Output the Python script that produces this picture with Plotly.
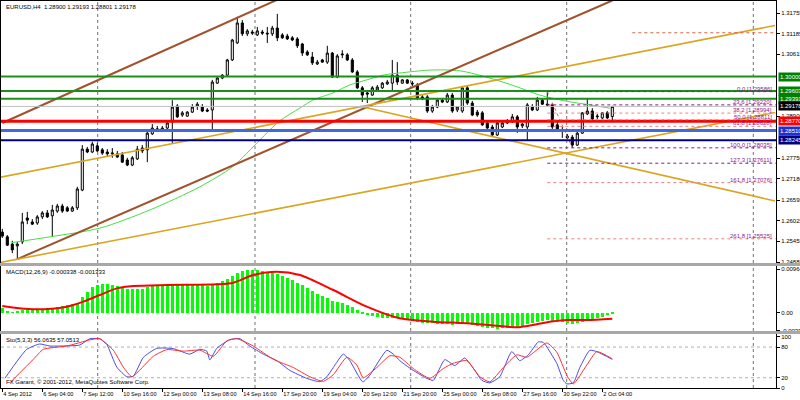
import plotly.graph_objects as go
from plotly.subplots import make_subplots

# ---------------- data ----------------
SYMBOL_TITLE = "EURUSD,H4  1.28900 1.29193 1.28801 1.29178"

OPEN = [1.2571, 1.2558, 1.2538, 1.2533, 1.2544, 1.2610, 1.2599, 1.2596, 1.2613, 1.2624,
        1.2616, 1.2629, 1.2643, 1.2638, 1.2629, 1.2638, 1.2687, 1.2800, 1.2792, 1.2809,
        1.2798, 1.2792, 1.2787, 1.2787, 1.2784, 1.2770, 1.2756, 1.2773, 1.2803, 1.2798,
        1.2842, 1.2856, 1.2853, 1.2858, 1.2875, 1.2919, 1.2894, 1.2891, 1.2902, 1.2919,
        1.2916, 1.2908, 1.2908, 1.2982, 1.2996, 1.3004, 1.3046, 1.3093, 1.3148, 1.3118,
        1.3123, 1.3115, 1.3123, 1.3120, 1.3118, 1.3134, 1.3115, 1.3112, 1.3107, 1.3104,
        1.3090, 1.3068, 1.3054, 1.3035, 1.3046, 1.3040, 1.3065, 1.2999, 1.3060, 1.3060,
        1.3046, 1.3013, 1.2969, 1.2955, 1.2949, 1.2963, 1.2969, 1.2980, 1.2982, 1.3004,
        1.2982, 1.2991, 1.2982, 1.2977, 1.2944, 1.2944, 1.2905, 1.2916, 1.2935, 1.2930,
        1.2949, 1.2908, 1.2905, 1.2969, 1.2927, 1.2902, 1.2900, 1.2872, 1.2861, 1.2839,
        1.2861, 1.2872, 1.2875, 1.2889, 1.2864, 1.2861, 1.2916, 1.2908, 1.2935, 1.2924,
        1.2922, 1.2867, 1.2853, 1.2836, 1.2833, 1.2811, 1.2844, 1.2897, 1.2905, 1.2889,
        1.2886, 1.2900, 1.28900]
HIGH = [1.2580, 1.2563, 1.2547, 1.2544, 1.2624, 1.2627, 1.2607, 1.2618, 1.2629, 1.2632,
        1.2646, 1.2649, 1.2649, 1.2643, 1.2643, 1.2696, 1.2811, 1.2806, 1.2820, 1.2817,
        1.2803, 1.2800, 1.2803, 1.2795, 1.2792, 1.2776, 1.2781, 1.2809, 1.2811, 1.2853,
        1.2869, 1.2864, 1.2864, 1.2878, 1.2935, 1.2924, 1.2905, 1.2905, 1.2924, 1.2930,
        1.2924, 1.2913, 1.2991, 1.2999, 1.3007, 1.3049, 1.3104, 1.3165, 1.3156, 1.3131,
        1.3129, 1.3137, 1.3129, 1.3137, 1.3140, 1.3173, 1.3120, 1.3118, 1.3112, 1.3109,
        1.3093, 1.3073, 1.3068, 1.3046, 1.3049, 1.3085, 1.3068, 1.3062, 1.3073, 1.3065,
        1.3051, 1.3018, 1.2974, 1.2963, 1.2974, 1.2977, 1.2985, 1.2991, 1.3046, 1.3040,
        1.2993, 1.2993, 1.2988, 1.2982, 1.2949, 1.2949, 1.2922, 1.2938, 1.2941, 1.2955,
        1.2955, 1.2919, 1.2971, 1.2974, 1.2933, 1.2908, 1.2905, 1.2878, 1.2867, 1.2878,
        1.2875, 1.2883, 1.2897, 1.2894, 1.2872, 1.2927, 1.2924, 1.2944, 1.2941, 1.29586,
        1.2927, 1.2875, 1.2861, 1.2842, 1.2839, 1.2847, 1.2902, 1.2941, 1.2913, 1.2897,
        1.2902, 1.2905, 1.29193]
LOW = [1.2555, 1.2533, 1.2513, 1.2497, 1.2538, 1.2593, 1.2591, 1.2591, 1.2607, 1.2610,
       1.2558, 1.2624, 1.2624, 1.2627, 1.2627, 1.2632, 1.2684, 1.2789, 1.2789, 1.2792,
       1.2784, 1.2781, 1.2776, 1.2776, 1.2762, 1.2753, 1.2753, 1.2770, 1.2789, 1.2764,
       1.2839, 1.2847, 1.2847, 1.2853, 1.2817, 1.2886, 1.2889, 1.2889, 1.2900, 1.2908,
       1.2902, 1.2902, 1.2853, 1.2980, 1.2993, 1.3002, 1.3043, 1.3090, 1.3112, 1.3112,
       1.3115, 1.3112, 1.3115, 1.3093, 1.3112, 1.3098, 1.3104, 1.3101, 1.3098, 1.3079,
       1.3057, 1.3057, 1.3032, 1.3032, 1.3038, 1.3035, 1.2996, 1.2996, 1.3051, 1.3043,
       1.3010, 1.2966, 1.2930, 1.2927, 1.2947, 1.2960, 1.2966, 1.2977, 1.2958, 1.2977,
       1.2980, 1.2980, 1.2974, 1.2935, 1.2935, 1.2900, 1.2900, 1.2913, 1.2927, 1.2927,
       1.2900, 1.2902, 1.2900, 1.2922, 1.2891, 1.2889, 1.2864, 1.2856, 1.2836, 1.2836,
       1.2858, 1.2869, 1.2872, 1.2845, 1.2858, 1.2825, 1.2905, 1.2905, 1.2922, 1.2919,
       1.2847, 1.2847, 1.2831, 1.2828, 1.28035, 1.2809, 1.2842, 1.2894, 1.2878, 1.2883,
       1.2883, 1.2883, 1.28801]
CLOSE = [1.2560, 1.2535, 1.2522, 1.2538, 1.2599, 1.2604, 1.2593, 1.2613, 1.2624, 1.2613,
         1.2632, 1.2643, 1.2629, 1.2629, 1.2638, 1.2690, 1.2800, 1.2792, 1.2814, 1.2795,
         1.2789, 1.2787, 1.2789, 1.2778, 1.2764, 1.2756, 1.2776, 1.2800, 1.2795, 1.2844,
         1.2858, 1.2853, 1.2858, 1.2872, 1.2916, 1.2889, 1.2900, 1.2902, 1.2916, 1.2924,
         1.2905, 1.2905, 1.2985, 1.2996, 1.3004, 1.3046, 1.3101, 1.3148, 1.3118, 1.3126,
         1.3120, 1.3126, 1.3120, 1.3118, 1.3134, 1.3107, 1.3107, 1.3104, 1.3101, 1.3085,
         1.3065, 1.3060, 1.3038, 1.3040, 1.3040, 1.3065, 1.2999, 1.3057, 1.3062, 1.3046,
         1.3013, 1.2969, 1.2949, 1.2952, 1.2969, 1.2971, 1.2982, 1.2985, 1.3004, 1.2985,
         1.2991, 1.2982, 1.2980, 1.2941, 1.2938, 1.2905, 1.2916, 1.2935, 1.2930, 1.2949,
         1.2905, 1.2916, 1.2969, 1.2927, 1.2894, 1.2894, 1.2867, 1.2858, 1.2839, 1.2872,
         1.2872, 1.2878, 1.2889, 1.2861, 1.2869, 1.2922, 1.2908, 1.2935, 1.2924, 1.2922,
         1.2861, 1.2850, 1.2850, 1.2831, 1.2811, 1.2844, 1.2900, 1.2905, 1.2883, 1.2891,
         1.2900, 1.2886, 1.29178]
BARS = list(range(len(OPEN)))

TIME_TICK_BARS = [0, 8, 16, 24, 32, 40, 48, 56, 64, 72, 80, 88, 96, 104, 112, 120]
TIME_TICK_TEXT = ["4 Sep 2012", "6 Sep 04:00", "7 Sep 12:00", "10 Sep 16:00", "12 Sep 00:00",
                  "13 Sep 08:00", "14 Sep 16:00", "17 Sep 20:00", "19 Sep 04:00", "20 Sep 12:00",
                  "21 Sep 20:00", "25 Sep 00:00", "26 Sep 08:00", "27 Sep 16:00", "30 Sep 22:00",
                  "2 Oct 04:00"]

PRICE_TICKS = [1.31755, 1.31185, 1.30615, 1.28905, 1.27750, 1.27180, 1.26595, 1.26025, 1.25455, 1.24885]
PRICE_TICK_TEXT = ["1.31755", "1.31185", "1.30615", "1.28905", "1.27750", "1.27180", "1.26595",
                   "1.26025", "1.25455", "1.24885"]

# moving average (sampled along the curve)
MA_BARS = [1.9, 9.5, 19.5, 29.5, 39.5, 46.1, 51.5, 55.5, 59.5, 62.1, 66.1, 69.5, 72.9, 76.5,
           79.5, 85.5, 91.5, 97.5, 102.5, 107.5, 112.5, 117.5, 121.5]
MA_VALUES = [1.2542, 1.2558, 1.2582, 1.2632, 1.2696, 1.2752, 1.2825, 1.2878, 1.2913, 1.2935,
             1.2955, 1.2977, 1.2991, 1.3005, 1.3010, 1.3018, 1.3016, 1.2996, 1.2974, 1.2949,
             1.2933, 1.2922, 1.2913]

# horizontal price levels
LEVEL_PRICES = [1.30000, 1.29603, 1.29391, 1.29178, 1.28770, 1.28510, 1.28245]
LEVEL_LABELS = ["1.30000", "1.29603", "1.29391", "1.29178", "1.28770", "1.28510", "1.28245"]
LEVEL_KIND = ["green", "green", "green", "bid", "red", "blue", "navy"]

# fibonacci retracement
FIB_RATIOS = [0.0, 23.6, 38.2, 50.0, 61.8, 100.0, 127.3, 161.8, 261.8]
FIB_PRICES = [1.29586, 1.29220, 1.28994, 1.28811, 1.28628, 1.28035, 1.27611, 1.27076, 1.25525]
FIB_HIGH_BAR = 109
FIB_LOW_BAR = 114

# trend lines (bar, price) end points
BROWN_UPPER_BARS, BROWN_UPPER_PRICES = [0, 60], [1.2872, 1.3243]
BROWN_LOWER_BARS, BROWN_LOWER_PRICES = [2.9, 122.0], [1.2496, 1.3210]
ORANGE_A_BARS, ORANGE_A_PRICES = [-0.46, 154.54], [1.2487, 1.2901]
ORANGE_B_BARS, ORANGE_B_PRICES = [-0.46, 154.54], [1.2722, 1.3141]
ORANGE_C_BARS, ORANGE_C_PRICES = [71.5, 154.54], [1.2918, 1.2657]
TARGET_BARS, TARGET_PRICES = [126, 154.7], [1.3121, 1.3121]

# MACD
MACD_MAIN = [0.00097, 0.00023, 0.00008, 0.00038, 0.00060, 0.00060, 0.00060, 0.00075, 0.00089, 0.00097,
             0.00112, 0.00134, 0.00149, 0.00164, 0.00186, 0.00223, 0.00356, 0.00467, 0.00578, 0.00615,
             0.00630, 0.00630, 0.00615, 0.00593, 0.00563, 0.00534, 0.00519, 0.00526, 0.00534, 0.00563,
             0.00593, 0.00608, 0.00608, 0.00615, 0.00637, 0.00637, 0.00630, 0.00622, 0.00622, 0.00622,
             0.00608, 0.00593, 0.00637, 0.00667, 0.00696, 0.00741, 0.00815, 0.00889, 0.00926, 0.00948,
             0.00948, 0.00941, 0.00926, 0.00904, 0.00889, 0.00867, 0.00822, 0.00778, 0.00726, 0.00667,
             0.00608, 0.00541, 0.00474, 0.00415, 0.00371, 0.00319, 0.00267, 0.00238, 0.00208, 0.00171,
             0.00119, 0.00060, -0.00015, -0.00051, -0.00073, -0.00095, -0.00118, -0.00125, -0.00125, -0.00103,
             -0.00147, -0.00162, -0.00177, -0.00199, -0.00221, -0.00236, -0.00236, -0.00251, -0.00258, -0.00258,
             -0.00273, -0.00258, -0.00236, -0.00251, -0.00273, -0.00295, -0.00310, -0.00332, -0.00347, -0.00362,
             -0.00347, -0.00332, -0.00310, -0.00310, -0.00295, -0.00251, -0.00221, -0.00199, -0.00177, -0.00162,
             -0.00177, -0.00199, -0.00214, -0.00236, -0.00251, -0.00236, -0.00199, -0.00162, -0.00147, -0.00110,
             -0.00085, -0.00060, -0.000338]
MACD_SIGNAL_BARS = [0, 6.2, 12.9, 16.2, 19.5, 22.9, 26.2, 32.9, 42.9, 46.2, 50.2, 54.9, 59.5, 66.2,
                    72.9, 79.5, 86.1, 92.9, 99.5, 102.9, 106.1, 109.5, 112.9, 116.9, 122]
MACD_SIGNAL = [0.00149, 0.00075, 0.00134, 0.00245, 0.00393, 0.00541, 0.00593, 0.00615, 0.00630, 0.00667,
               0.00837, 0.00911, 0.00837, 0.00504, 0.00134, -0.00125, -0.00199, -0.00236, -0.00295, -0.00325,
               -0.00273, -0.00199, -0.00162, -0.00162, -0.001333]
MACD_TICKS = [0.009641, 0.0, -0.003966]
MACD_TICK_TEXT = ["0.009641", "0.00", "-0.003966"]

# Stochastic
STO_K_BARS = [0.5, 4.9, 7.5, 9.5, 11.5, 15.5, 17.5, 19.5, 20.9, 22.9, 24.9, 26.2, 28.2, 30.9, 34.2, 37.5,
              39.5, 40.9, 41.5, 42.9, 45.5, 47.5, 49.5, 52.2, 54.9, 57.5, 60.9, 63.5, 64.9, 66.2, 68.2,
              69.5, 72.1, 73.5, 76.9, 78.2, 79.5, 81.5, 84.9, 86.2, 88.5, 90.5, 92.5, 94.5, 95.9, 97.5,
              99.5, 101.9, 103.5, 105.2, 107.2, 108.2, 110.9, 112.2, 112.9, 114.2, 115.5, 117.5, 118.9, 122]
STO_K = [18.8, 75.6, 86, 82, 82, 84, 96.4, 96, 85, 40.8, 21.9, 23, 59.8, 77.5, 77, 66.2,
         75.6, 72, 54.8, 77.5, 94.6, 96.4, 81.9, 66.2, 53.5, 34.5, 18.8, 12.4, 21.9, 40, 66.2,
         53.5, 12, 25, 73.7, 66.2, 53.5, 38.8, 18.8, 15, 55.4, 44, 58.5, 34.5, 15, 10,
         22, 71.1, 53.5, 64.8, 90, 89, 48, 15, 8, 10, 40, 73.7, 71, 56.0635]
STO_D_BARS = [1.5, 6.2, 8.2, 12.9, 17.5, 19.5, 22.2, 24.2, 25.9, 27.5, 30.2, 32.9, 36.2, 39.5, 42.2,
              44.9, 46.9, 50.2, 54.2, 58.2, 61.5, 64.2, 66.2, 68.9, 70.9, 72.2, 74.9, 77.5, 79.5,
              82.2, 85.5, 88.2, 90.2, 92.9, 95.5, 97.5, 100.2, 102.9, 104.9, 108.9, 110.9, 112.9,
              114.2, 116.9, 118.9, 122]
STO_D = [10, 56, 75.6, 82, 94, 96.4, 74, 40.8, 21.9, 35, 62, 75, 72, 74, 62,
         92, 96.4, 82, 56, 40, 22, 13, 26, 60, 45, 20, 40, 63, 60,
         38, 18.8, 38, 48.4, 53.5, 22, 12, 40, 64.8, 60, 88.1, 70, 25,
         8, 45, 71.1, 57.0513]
STO_TICKS = [100, 80, 20, 0]
STO_LEVELS = [80, 20]

MACD_TEXT = "MACD(12,26,9) -0.000338 -0.001333"
STO_TEXT = "Sto(5,3,3) 56.0635 57.0513"
COPYRIGHT = "FX Garant, \u00a9 2001-2012, MetaQuotes Software Corp."

# ---------------- styling ----------------
FONT = "Liberation Sans"
FS = 6
FS_X = 5.6
X_RANGE = [-0.26, 154.74]
GRID_BARS = [19.08, 50.54, 81.68, 112.88, 150.2]
LEVEL_STYLE = {
    "green": dict(color="#1A8F1A", width=2, box="#008000"),
    "bid": dict(color="#C0C0C0", width=1, box="#000000"),
    "red": dict(color="#FF0000", width=3, box="#FF0000"),
    "blue": dict(color="#4169E1", width=3, box="#2030D0"),
    "navy": dict(color="#000080", width=2, box="#000080"),
}
FIB_COLORS = ["#8B1A8B", "#8B1A8B", "#F08080", "#F08080", "#F08080", "#8B1A8B", "#8B1A8B", "#F08080", "#F08080"]

fig = make_subplots(rows=3, cols=1, shared_xaxes=True, vertical_spacing=0.0)

# candles
fig.add_trace(go.Candlestick(
    x=BARS, open=OPEN, high=HIGH, low=LOW, close=CLOSE,
    increasing=dict(line=dict(color="black", width=1), fillcolor="white"),
    decreasing=dict(line=dict(color="black", width=1), fillcolor="black"),
    whiskerwidth=0, showlegend=False, hoverinfo="skip"), row=1, col=1)

# moving average
fig.add_trace(go.Scatter(x=MA_BARS, y=MA_VALUES, mode="lines",
                         line=dict(color="#44E044", width=1, shape="spline", smoothing=0.8),
                         showlegend=False, hoverinfo="skip"), row=1, col=1)

# trend lines
for bx, py, col, w in [(BROWN_UPPER_BARS, BROWN_UPPER_PRICES, "#A0522D", 2),
                       (BROWN_LOWER_BARS, BROWN_LOWER_PRICES, "#A0522D", 2),
                       (ORANGE_A_BARS, ORANGE_A_PRICES, "#DAA520", 1.6),
                       (ORANGE_B_BARS, ORANGE_B_PRICES, "#DAA520", 1.6),
                       (ORANGE_C_BARS, ORANGE_C_PRICES, "#DAA520", 1.6)]:
    fig.add_trace(go.Scatter(x=bx, y=py, mode="lines", line=dict(color=col, width=w),
                             showlegend=False, hoverinfo="skip"), row=1, col=1)
fig.add_trace(go.Scatter(x=TARGET_BARS, y=TARGET_PRICES, mode="lines",
                         line=dict(color="#E06040", width=1, dash="dot"),
                         showlegend=False, hoverinfo="skip"), row=1, col=1)

# fib diagonal
fig.add_trace(go.Scatter(x=[FIB_HIGH_BAR, FIB_LOW_BAR], y=[FIB_PRICES[0], FIB_PRICES[5]], mode="lines",
                         line=dict(color="#FF5050", width=1, dash="dot"),
                         showlegend=False, hoverinfo="skip"), row=1, col=1)

# MACD
fig.add_trace(go.Bar(x=BARS, y=MACD_MAIN, width=0.5, marker=dict(color="#00FF00", line=dict(width=0)),
                     showlegend=False, hoverinfo="skip"), row=2, col=1)
fig.add_trace(go.Scatter(x=MACD_SIGNAL_BARS, y=MACD_SIGNAL, mode="lines",
                         line=dict(color="#FF0000", width=2, shape="spline", smoothing=0.8),
                         showlegend=False, hoverinfo="skip"), row=2, col=1)

# Stochastic
fig.add_trace(go.Scatter(x=STO_K_BARS, y=STO_K, mode="lines",
                         line=dict(color="#4A4AE8", width=1, shape="spline", smoothing=0.5),
                         showlegend=False, hoverinfo="skip"), row=3, col=1)
fig.add_trace(go.Scatter(x=STO_D_BARS, y=STO_D, mode="lines",
                         line=dict(color="#FF3030", width=1, shape="spline", smoothing=0.5),
                         showlegend=False, hoverinfo="skip"), row=3, col=1)

shapes = []
# vertical grid
for gb in GRID_BARS:
    for xr, yr in [("x", "y domain"), ("x2", "y2 domain"), ("x3", "y3 domain")]:
        shapes.append(dict(type="line", xref=xr, yref=yr, x0=gb, x1=gb, y0=0, y1=1, layer="below",
                           line=dict(color="#707070", width=1, dash="dot")))
# horizontal levels
for p, kind in zip(LEVEL_PRICES, LEVEL_KIND):
    st = LEVEL_STYLE[kind]
    shapes.append(dict(type="line", xref="x domain", yref="y", x0=0, x1=1, y0=p, y1=p, layer="above",
                       line=dict(color=st["color"], width=st["width"])))
# fib levels
for p, c in zip(FIB_PRICES, FIB_COLORS):
    shapes.append(dict(type="line", xref="x", yref="y", x0=FIB_HIGH_BAR, x1=X_RANGE[1], y0=p, y1=p,
                       layer="above", line=dict(color=c, width=1, dash="dot")))
# stochastic levels
for lv in STO_LEVELS:
    shapes.append(dict(type="line", xref="x3 domain", yref="y3", x0=0, x1=1, y0=lv, y1=lv, layer="below",
                       line=dict(color="#B0B0B0", width=1, dash="dot")))
# panel separators
for y0, y1 in [(0.3152, 0.3230), (0.1395, 0.1473)]:
    shapes.append(dict(type="rect", xref="paper", yref="paper", x0=-0.01, x1=1.04, y0=y0, y1=y1,
                       fillcolor="#A8A8A8", line=dict(width=0), layer="above"))

annotations = []
annotations.append(dict(text=SYMBOL_TITLE, xref="paper", yref="paper", x=0.004, y=0.984,
                        xanchor="left", yanchor="middle", showarrow=False,
                        font=dict(family=FONT, size=FS, color="black")))
annotations.append(dict(text=MACD_TEXT, xref="paper", yref="paper", x=0.004, y=0.300,
                        xanchor="left", yanchor="middle", showarrow=False,
                        font=dict(family=FONT, size=FS, color="black")))
annotations.append(dict(text=STO_TEXT, xref="paper", yref="paper", x=0.004, y=0.123,
                        xanchor="left", yanchor="middle", showarrow=False,
                        font=dict(family=FONT, size=FS, color="black")))
annotations.append(dict(text=COPYRIGHT, xref="paper", yref="paper", x=0.004, y=0.016,
                        xanchor="left", yanchor="middle", showarrow=False,
                        font=dict(family=FONT, size=FS, color="black")))
for p, lab, kind in zip(LEVEL_PRICES, LEVEL_LABELS, LEVEL_KIND):
    annotations.append(dict(text=lab, xref="paper", yref="y", x=1.002, y=p, xanchor="left",
                            yanchor="middle", showarrow=False, bgcolor=LEVEL_STYLE[kind]["box"],
                            borderpad=1, font=dict(family=FONT, size=FS, color="white")))
for r, p in zip(FIB_RATIOS, FIB_PRICES):
    annotations.append(dict(text=f"{r:.1f} [{p:.5f}]", xref="x domain", yref="y", x=0.997, y=p,
                            xanchor="right", yanchor="bottom", yshift=-2, showarrow=False,
                            font=dict(family=FONT, size=FS, color="#8B1A8B")))

axis_common = dict(showgrid=False, zeroline=False, showline=True, linecolor="black", linewidth=1,
                   mirror=True, automargin=False)
yaxis_common = dict(axis_common, side="right", ticks="outside", ticklen=3, tickcolor="black",
                    tickfont=dict(family=FONT, size=FS, color="black"))

fig.update_layout(
    width=800, height=400,
    margin=dict(l=1, r=24, t=1, b=12),
    paper_bgcolor="white", plot_bgcolor="white",
    boxgap=0.4, bargap=0,
    shapes=shapes, annotations=annotations,
    showlegend=False,
    xaxis=dict(axis_common, domain=[0, 1], range=X_RANGE, showticklabels=False, ticks="",
               rangeslider=dict(visible=False)),
    xaxis2=dict(axis_common, domain=[0, 1], range=X_RANGE, showticklabels=False, ticks=""),
    xaxis3=dict(axis_common, domain=[0, 1], range=X_RANGE, tickmode="array",
                tickvals=TIME_TICK_BARS, ticktext=TIME_TICK_TEXT, ticks="outside", ticklen=3,
                tickcolor="black", ticklabelposition="outside right", tickangle=0,
                tickfont=dict(family=FONT, size=FS_X, color="black")),
    yaxis=dict(yaxis_common, domain=[0.3230, 1], range=[1.24858, 1.32086], tickmode="array",
               tickvals=PRICE_TICKS, ticktext=PRICE_TICK_TEXT),
    yaxis2=dict(yaxis_common, domain=[0.1473, 0.3152], range=[-0.00406, 0.01037], tickmode="array",
                tickvals=MACD_TICKS, ticktext=MACD_TICK_TEXT),
    yaxis3=dict(yaxis_common, domain=[0, 0.1395], range=[0, 105.5], tickmode="array",
                tickvals=STO_TICKS, ticktext=[str(v) for v in STO_TICKS]),
)

fig.write_html("out.html", config={"displayModeBar": False},
               post_script="document.body.style.margin='0px';document.body.style.overflow='hidden';")
